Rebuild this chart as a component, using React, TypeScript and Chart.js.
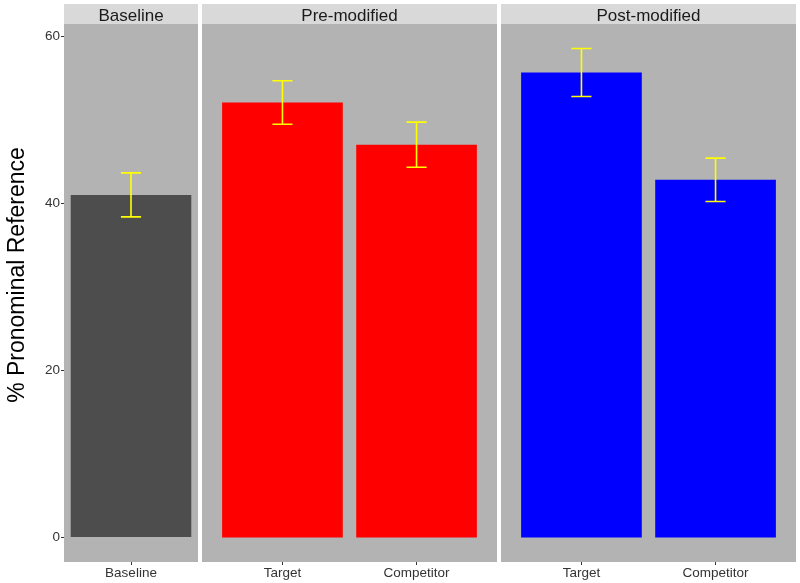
import React, { useEffect, useRef } from "react";
import { Chart, registerables } from "chart.js";

Chart.register(...registerables);

// ---- data ----
const panelTitles = ["Baseline", "Pre-modified", "Post-modified"];
const baselineLabels = ["Baseline"];
const baselineValues = [41.0];
const baselineErrors = [2.63];
const preLabels = ["Target", "Competitor"];
const preValues = [52.05, 47.0];
const preErrors = [2.6, 2.7];
const postLabels = ["Target", "Competitor"];
const postValues = [55.65, 42.8];
const postErrors = [2.87, 2.6];
const yTicks = [0, 20, 40, 60];
const yTitle = "% Pronominal Reference";

// ggplot-like 5% expansion of the data range
const allTops = [
  ...baselineValues.map((v, i) => v + baselineErrors[i]),
  ...preValues.map((v, i) => v + preErrors[i]),
  ...postValues.map((v, i) => v + postErrors[i]),
];
const dataMax = Math.max(...allTops);
const Y_MIN = -0.05 * dataMax;
const Y_MAX = 1.05 * dataMax;

const FONT = '"Liberation Sans", Arial, Helvetica, sans-serif';
const PANEL_BG = "#b3b3b3";
const STRIP_BG = "#d9d9d9";
const AXIS_TEXT = "#333333";

type PanelProps = {
  title: string;
  labels: string[];
  values: number[];
  errors: number[];
  color: string;
  showY: boolean;
  xMin: number;
  xMax: number;
  left: number;
  width: number;
};

function Panel(props: PanelProps) {
  const ref = useRef<HTMLCanvasElement>(null);
  useEffect(() => {
    const canvas = ref.current!;
    const { title, labels, values, errors, color, showY, xMin, xMax } = props;

    const facetPlugin = {
      id: "facet",
      beforeDraw(chart: any) {
        const { ctx, chartArea: a } = chart;
        ctx.save();
        ctx.fillStyle = PANEL_BG;
        ctx.fillRect(a.left, a.top, a.right - a.left, a.bottom - a.top);
        ctx.fillStyle = STRIP_BG;
        ctx.fillRect(a.left, 4, a.right - a.left, a.top - 4);
        ctx.fillStyle = "#1a1a1a";
        ctx.font = `17px ${FONT}`;
        ctx.textAlign = "center";
        ctx.textBaseline = "alphabetic";
        ctx.fillText(title, (a.left + a.right) / 2, 20.5);
        if (showY) {
          ctx.translate(23.5, 275);
          ctx.rotate(-Math.PI / 2);
          ctx.fillStyle = "#000000";
          ctx.font = `23px ${FONT}`;
          ctx.textAlign = "center";
          ctx.textBaseline = "alphabetic";
          ctx.fillText(yTitle, 0, 0);
        }
        ctx.restore();
      },
      afterDatasetsDraw(chart: any) {
        const { ctx } = chart;
        const xs = chart.scales.x;
        const ys = chart.scales.y;
        ctx.save();
        ctx.strokeStyle = "#ffff00";
        ctx.lineWidth = 1.6;
        values.forEach((v, i) => {
          const x = xs.getPixelForValue(i + 1);
          const half = xs.getPixelForValue(i + 1 + 0.075) - x;
          const yt = ys.getPixelForValue(v + errors[i]);
          const yb = ys.getPixelForValue(v - errors[i]);
          ctx.beginPath();
          ctx.moveTo(x, yt);
          ctx.lineTo(x, yb);
          ctx.moveTo(x - half, yt);
          ctx.lineTo(x + half, yt);
          ctx.moveTo(x - half, yb);
          ctx.lineTo(x + half, yb);
          ctx.stroke();
        });
        ctx.restore();
      },
    };

    const chart = new Chart(canvas, {
      type: "bar",
      data: {
        datasets: [
          {
            data: values.map((v, i) => ({ x: i + 1, y: v })),
            backgroundColor: color,
            borderWidth: 0,
            categoryPercentage: 0.9,
            barPercentage: 1,
          },
        ],
      },
      options: {
        responsive: false,
        animation: false,
        events: [],
        layout: { padding: { top: 24, left: 0, right: 0, bottom: 0 } },
        plugins: {
          legend: { display: false },
          tooltip: { enabled: false },
          title: { display: false },
        },
        scales: {
          x: {
            type: "linear",
            min: xMin,
            max: xMax,
            offset: false,
            afterBuildTicks: (s: any) => {
              s.ticks = labels.map((_, i) => ({ value: i + 1 }));
            },
            afterFit: (s: any) => {
              s.height = 21;
            },
            ticks: {
              callback: (_v: any, i: number) => labels[i],
              font: { family: FONT, size: 13.5 },
              color: AXIS_TEXT,
              padding: 0,
              maxRotation: 0,
              autoSkip: false,
            },
            grid: {
              drawOnChartArea: false,
              drawTicks: true,
              tickLength: 3,
              color: "#333333",
              offset: false,
            },
            border: { display: false },
          },
          y: {
            type: "linear",
            display: showY,
            min: Y_MIN,
            max: Y_MAX,
            afterBuildTicks: (s: any) => {
              s.ticks = yTicks.map((v) => ({ value: v }));
            },
            afterFit: (s: any) => {
              s.width = showY ? 64 : 0;
            },
            ticks: {
              font: { family: FONT, size: 13.5 },
              color: AXIS_TEXT,
              padding: 1,
            },
            grid: {
              drawOnChartArea: false,
              drawTicks: true,
              tickLength: 3,
              color: "#333333",
            },
            border: { display: false },
          },
        },
      } as any,
      plugins: [facetPlugin],
    });
    return () => chart.destroy();
  }, []);

  return (
    <canvas
      ref={ref}
      width={props.width}
      height={583}
      style={{
        position: "absolute",
        left: props.left,
        top: 0,
        width: props.width,
        height: 583,
      }}
    />
  );
}

export default function App() {
  return (
    <div
      style={{
        position: "absolute",
        left: 0,
        top: 0,
        width: 800,
        height: 583,
        background: "#ffffff",
        overflow: "hidden",
      }}
    >
      <Panel
        title={panelTitles[0]}
        labels={baselineLabels}
        values={baselineValues}
        errors={baselineErrors}
        color="#4d4d4d"
        showY={true}
        xMin={0.5}
        xMax={1.5}
        left={0}
        width={198}
      />
      <Panel
        title={panelTitles[1]}
        labels={preLabels}
        values={preValues}
        errors={preErrors}
        color="#ff0000"
        showY={false}
        xMin={0.4}
        xMax={2.6}
        left={202}
        width={295}
      />
      <Panel
        title={panelTitles[2]}
        labels={postLabels}
        values={postValues}
        errors={postErrors}
        color="#0000ff"
        showY={false}
        xMin={0.4}
        xMax={2.6}
        left={501}
        width={295}
      />
    </div>
  );
}
